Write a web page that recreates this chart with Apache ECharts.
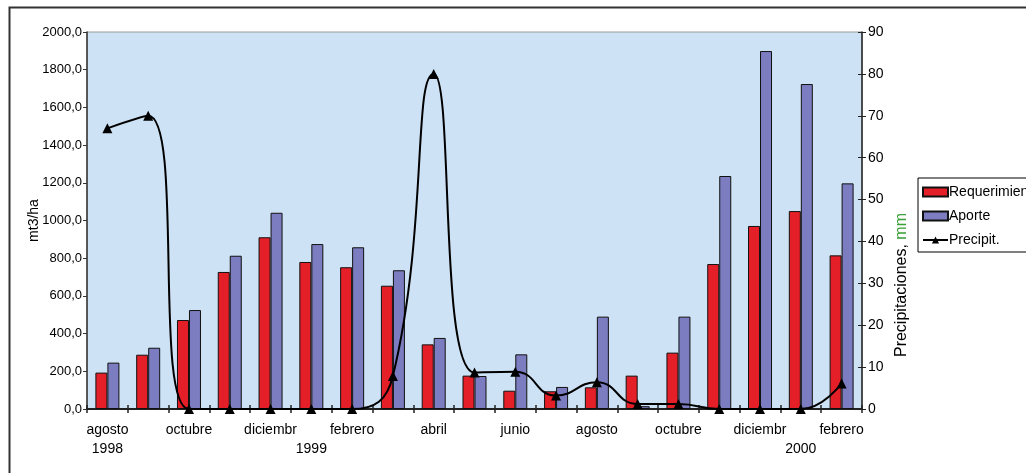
<!DOCTYPE html>
<html>
<head>
<meta charset="utf-8">
<script src="https://cdn.jsdelivr.net/npm/echarts@6/dist/echarts.min.js"></script>
<style>
html,body{margin:0;padding:0;background:#fff;}
#c{width:1026px;height:473px;}
</style>
</head>
<body>
<div id="c"></div>
<script>
const categories = ['agosto 1998','septiembre 1998','octubre 1998','noviembre 1998','diciembre 1998','enero 1999','febrero 1999','marzo 1999','abril 1999','mayo 1999','junio 1999','julio 1999','agosto 1999','septiembre 1999','octubre 1999','noviembre 1999','diciembre 1999','enero 2000','febrero 2000'];
const monthLabels = ['agosto','','octubre','','diciembr','','febrero','','abril','','junio','','agosto','','octubre','','diciembr','','febrero'];
const yearLabels = ['1998','','','','','1999','','','','','','','','','','','','2000',''];
const requerimiento = [193, 288, 472, 727, 911, 780, 752, 654, 343, 177, 97, 94, 115, 177, 299, 769, 971, 1050, 815];
const aporte = [246, 325, 525, 813, 1041, 875, 858, 736, 377, 175, 290, 117, 490, 15, 490, 1236, 1899, 1724, 1197];
const precip = [67, 70, 0, 0, 0, 0, 0, 7.9, 80, 8.7, 8.9, 3.2, 6.4, 1.2, 1.2, 0, 0, 0, 6.1];

const FONT = 'Liberation Sans';
const chart = echarts.init(document.getElementById('c'), null, {renderer: 'canvas'});
chart.setOption({
  backgroundColor: '#ffffff',
  animation: false,
  textStyle: {fontFamily: FONT, color: '#000'},
  grid: {left: 87, right: 164, top: 32, bottom: 64, show: true, backgroundColor: '#CDE2F4', borderColor: '#9a9a9a', borderWidth: 1},
  legend: {
    orient: 'vertical', left: 918, top: 178,
    padding: [7, 60, 5, 4],
    itemWidth: 25, itemHeight: 9, itemGap: 10,
    backgroundColor: '#fff', borderColor: '#000', borderWidth: 1, borderRadius: 0,
    textStyle: {fontFamily: FONT, fontSize: 14, color: '#000', padding: [0, 0, 0, -4]},
    data: [
      {name: 'Requerimiento', icon: 'rect'},
      {name: 'Aporte', icon: 'rect'},
      {name: 'Precipit.'}
    ]
  },
  xAxis: [{
    type: 'category', data: categories, boundaryGap: true,
    axisLine: {lineStyle: {color: '#222', width: 2}},
    axisTick: {show: true, interval: 0, length: 4, lineStyle: {color: '#222', width: 1.5}},
    axisLabel: {
      interval: 0, margin: 12, fontFamily: FONT, fontSize: 14, color: '#000', lineHeight: 19,
      formatter: function (v, i) { return monthLabels[i] + '\n' + yearLabels[i]; }
    },
    splitLine: {show: false}
  }, {
    type: 'category', data: categories, boundaryGap: true, position: 'bottom',
    axisLine: {show: false},
    axisTick: {show: true, inside: true, interval: 0, length: 4, lineStyle: {color: '#222', width: 1.5}},
    axisLabel: {show: false}, splitLine: {show: false}
  }],
  yAxis: [{
    type: 'value', min: 0, max: 2000, interval: 200, position: 'left',
    name: 'mt3/ha', nameLocation: 'middle', nameGap: 46, nameRotate: 90, nameMoveOverlap: false,
    nameTextStyle: {fontFamily: FONT, fontSize: 14, color: '#000'},
    axisLine: {show: true, lineStyle: {color: '#333', width: 1.5}},
    axisTick: {show: true, length: 4, lineStyle: {color: '#333'}},
    axisLabel: {margin: 5, fontFamily: FONT, fontSize: 13, color: '#000',
      formatter: function (v) { return v.toFixed(1).replace('.', ','); }},
    splitLine: {show: false}
  }, {
    type: 'value', min: 0, max: 90, interval: 10, position: 'right',
    axisLine: {show: true, lineStyle: {color: '#222', width: 1.5}},
    axisTick: {show: true, length: 4, lineStyle: {color: '#222'}},
    axisLabel: {margin: 6, fontFamily: FONT, fontSize: 14, color: '#000'},
    splitLine: {show: false}
  }, {
    type: 'value', min: 0, max: 90, interval: 10, position: 'right',
    axisLine: {show: false},
    axisTick: {show: true, inside: true, length: 4, lineStyle: {color: '#222'}},
    axisLabel: {show: false}, splitLine: {show: false}
  }],
  series: [{
    name: 'Requerimiento', type: 'bar', data: requerimiento, barWidth: 12, barGap: '0%',
    itemStyle: {color: '#E51F28', borderColor: '#111', borderWidth: 1}
  }, {
    name: 'Aporte', type: 'bar', data: aporte, barWidth: 12, barGap: '0%',
    itemStyle: {color: '#7B7DC0', borderColor: '#111', borderWidth: 1}
  }, {
    name: 'Precipit.', type: 'line', yAxisIndex: 1, data: precip, smooth: 0.5,
    symbol: 'triangle', symbolSize: 10,
    lineStyle: {color: '#000', width: 2},
    itemStyle: {color: '#000'}, z: 5
  }],
  graphic: [{
    type: 'rect', left: 7, top: 5, z: -10, silent: true,
    shape: {x: 0, y: 0, width: 1040, height: 490},
    style: {fill: 'none', stroke: '#333', lineWidth: 2}
  }, {
    type: 'text', x: 902, y: 285, rotation: Math.PI / 2, silent: true,
    style: {
      text: '{a|Precipitaciones, }{b|mm}',
      textAlign: 'center', textVerticalAlign: 'middle',
      rich: {
        a: {fontFamily: FONT, fontSize: 16, fill: '#000', color: '#000'},
        b: {fontFamily: FONT, fontSize: 16, fill: '#3aa03a', color: '#3aa03a'}
      }
    }
  }]
});
</script>
</body>
</html>
